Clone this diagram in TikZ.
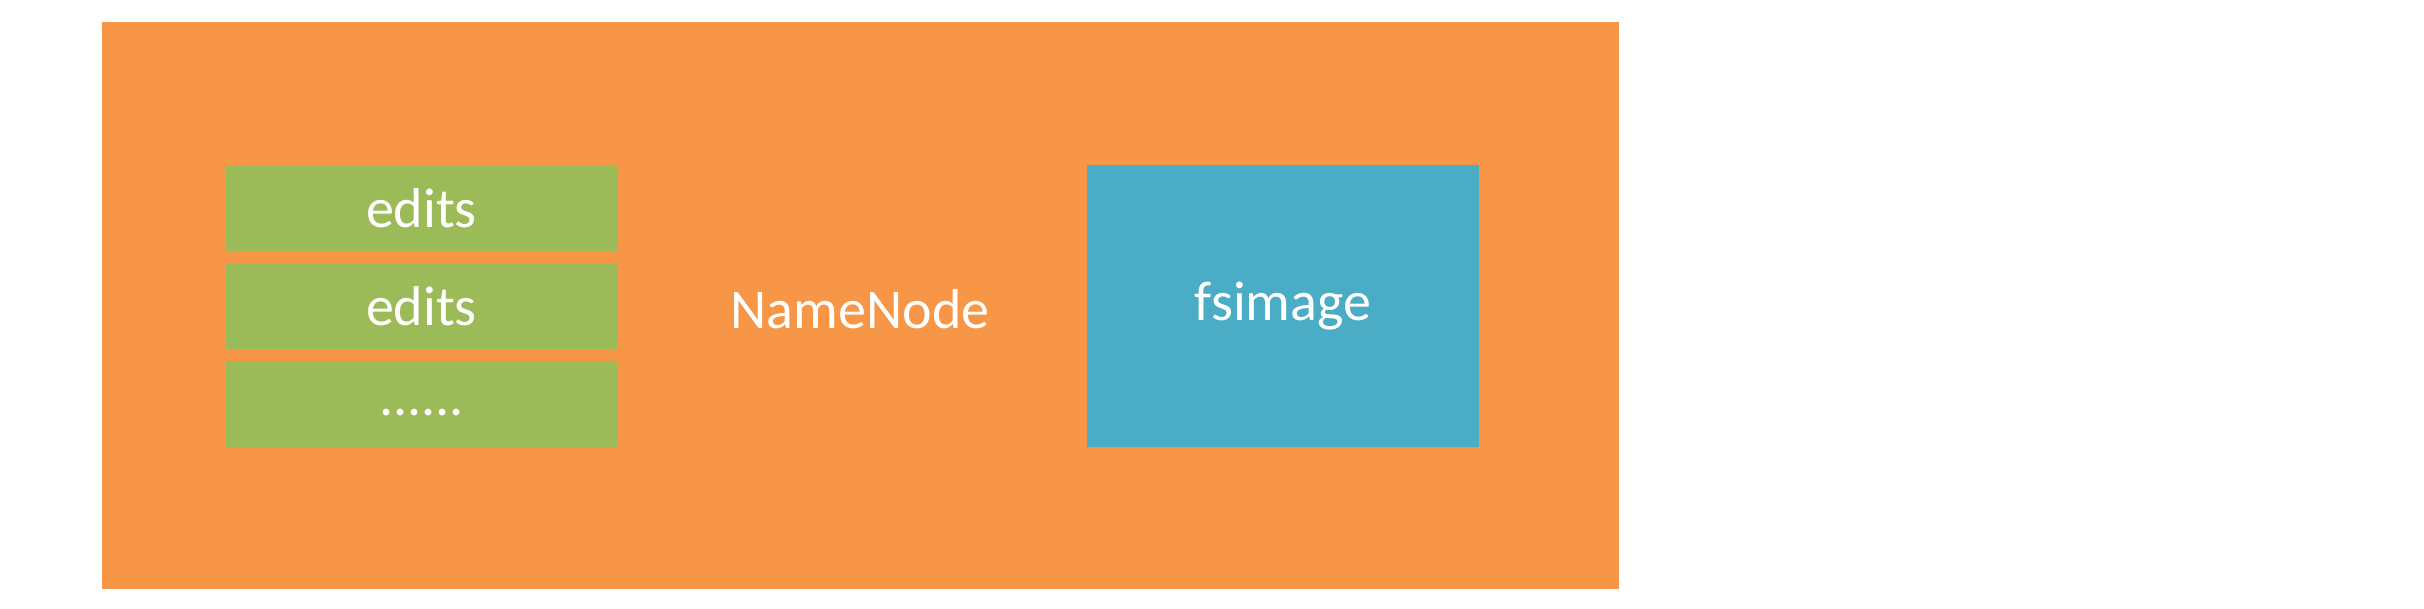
\documentclass[tikz,border=0pt]{standalone}
\usepackage{fontspec}
\setmainfont{Carlito}
\definecolor{nnorange}{HTML}{F79646}
\definecolor{editgreen}{HTML}{9BBB59}
\definecolor{fsblue}{HTML}{4BACC6}
\begin{document}
\begin{tikzpicture}[x=1pt,y=-1pt,
  boxbase/.style={inner sep=0pt, outer sep=0pt, text=white, font=\fontsize{56}{60}\selectfont},
  editbox/.style={boxbase, fill=editgreen, minimum width=391pt, minimum height=86pt},
  fsbox/.style={boxbase, fill=fsblue, minimum width=392pt, minimum height=282pt}]
\useasboundingbox (0,0) rectangle (2424,609);
\fill[nnorange] (102,22) rectangle (1619,589);
\node[boxbase] (nn) at (860,309) {NameNode};
\node[editbox] (e1) at (421.5,208) {edits};
\node[editbox] (e2) at (421.5,306) {edits};
\node[editbox] (e3) at (421.5,404) {\raisebox{-0.42em}{......}};
\node[fsbox] (fs) at (1283,306) {fsimage};
\end{tikzpicture}
\end{document}
